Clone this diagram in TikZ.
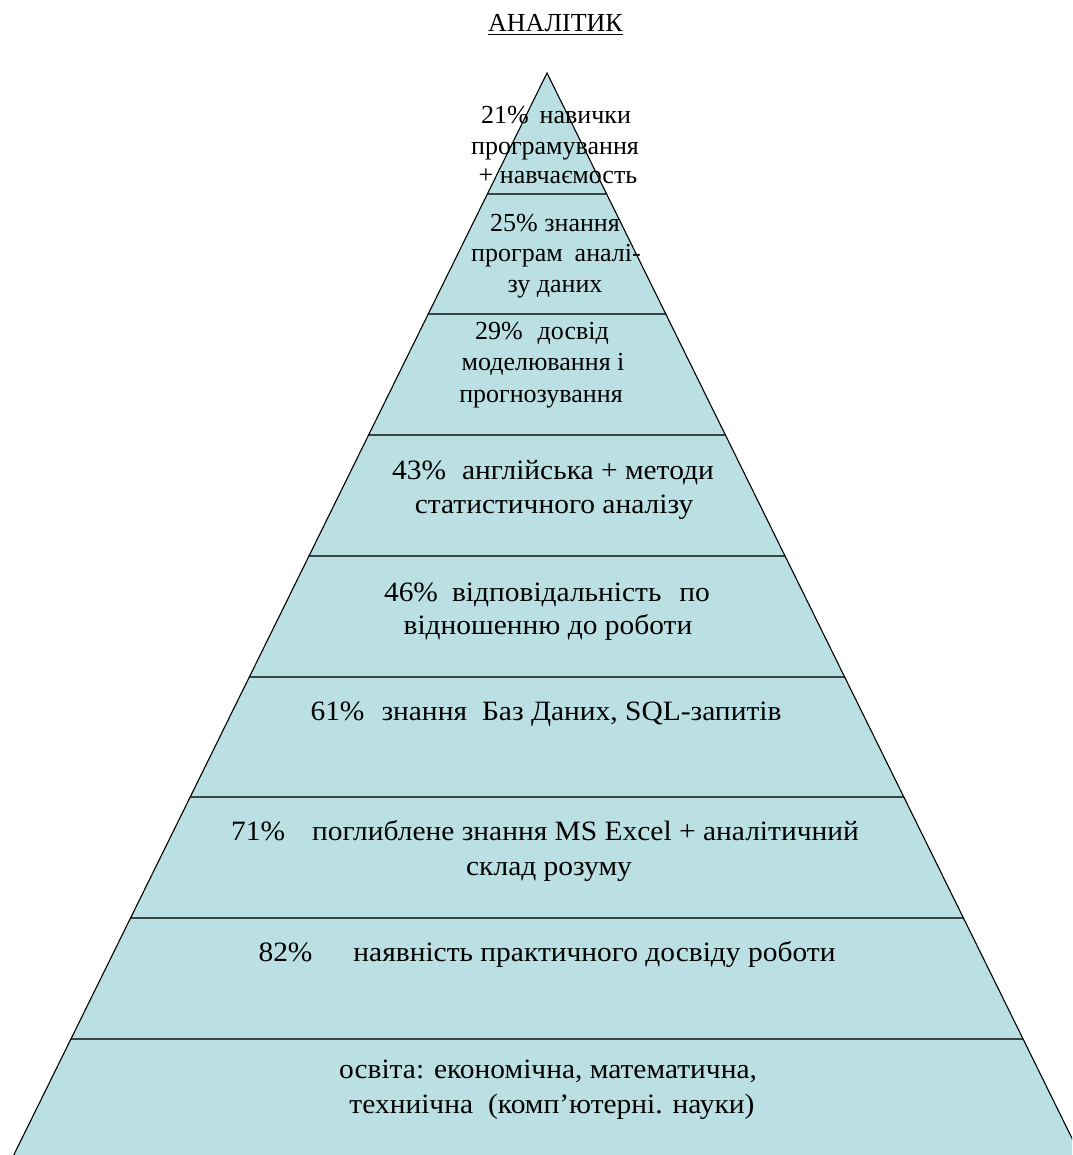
\documentclass[tikz,border=0pt]{standalone}
\usepackage{fontspec}
\setmainfont{Liberation Serif}
\newfontfamily\widefont[FakeStretch=1.052]{Liberation Serif}
\definecolor{pyrfill}{HTML}{BBE0E3}
\definecolor{divcol}{HTML}{3A4646}
\begin{document}
\begin{tikzpicture}[x=1pt,y=-1pt,
  txt/.style={anchor=base, inner sep=0pt, font=\fontsize{26}{30}\selectfont},
  wtxt/.style={anchor=base, inner sep=0pt, font=\widefont\fontsize{28}{32}\selectfont},
  divider/.style={draw=divcol, line width=2pt},
  edge/.style={draw=black, line width=1.1pt}]
\useasboundingbox (0,0) rectangle (1072,1155);
\coordinate (apex) at (547,73);
\coordinate (bl) at (11.3,1160);
\coordinate (br) at (1082.7,1160);
\begin{scope}
  \clip (0,0) rectangle (1072,1155);
  \fill[pyrfill] (bl) -- (apex) -- (br) -- cycle;
  \begin{scope}
    \clip (bl) -- (apex) -- (br) -- cycle;
    \foreach \yy in {194,314,435,556,677,797,918,1039}
      \draw[divider] (0,\yy) -- (1072,\yy);
  \end{scope}
  \draw[edge] (bl) -- (apex) -- (br);
\end{scope}

% title
\node[txt] (title) at (555.5,32) {АНАЛІТИК};
\draw[line width=1.2pt] ([yshift=-2.6pt]title.base west) -- ([yshift=-2.6pt]title.base east);

% layer 1
\node[txt] (l1a) at (556,124) {21\%\hspace{11pt}навички};
\node[txt] (l1b) at (555,155) {програмування};
\node[txt] (l1c) at (558,184) {+ навчаємость};
% layer 2
\node[txt] (l2a) at (555,232) {25\% знання};
\node[txt] (l2b) at (556,262) {програм\hspace{12pt}аналі-};
\node[txt] (l2c) at (555,292) {зу даних};
% layer 3
\node[txt] (l3a) at (542,339) {29\%\hspace{15pt}досвід};
\node[txt] (l3b) at (543,370) {моделювання і};
\node[txt] (l3c) at (541,402) {прогнозування};
% layer 4
\node[wtxt] (l4a) at (553,479) {43\%\hspace{16pt}англійська + методи};
\node[wtxt] (l4b) at (554,513) {статистичного аналізу};
% layer 5
\node[wtxt] (l5a) at (547,601) {46\%\hspace{14pt}відповідальність\hspace{18pt}по};
\node[wtxt] (l5b) at (548,634) {відношенню до роботи};
% layer 6
\node[wtxt] (l6a) at (546,720) {61\%\hspace{17pt}знання\hspace{15pt}Баз Даних, SQL-запитів};
% layer 7
\node[wtxt] (l7a) at (545,840) {71\%\hspace{27pt}поглиблене знання MS Excel + аналітичний};
\node[wtxt] (l7b) at (549,875) {склад розуму};
% layer 8
\node[wtxt] (l8a) at (547,961) {82\%\hspace{41pt}наявність практичного досвіду роботи};
% layer 9
\node[wtxt] (l9a) at (548,1078) {освіта: економічна, математична,};
\node[wtxt] (l9b) at (552,1113) {техниічна\hspace{15pt}(комп’ютерні. науки)};
\end{tikzpicture}
\end{document}
